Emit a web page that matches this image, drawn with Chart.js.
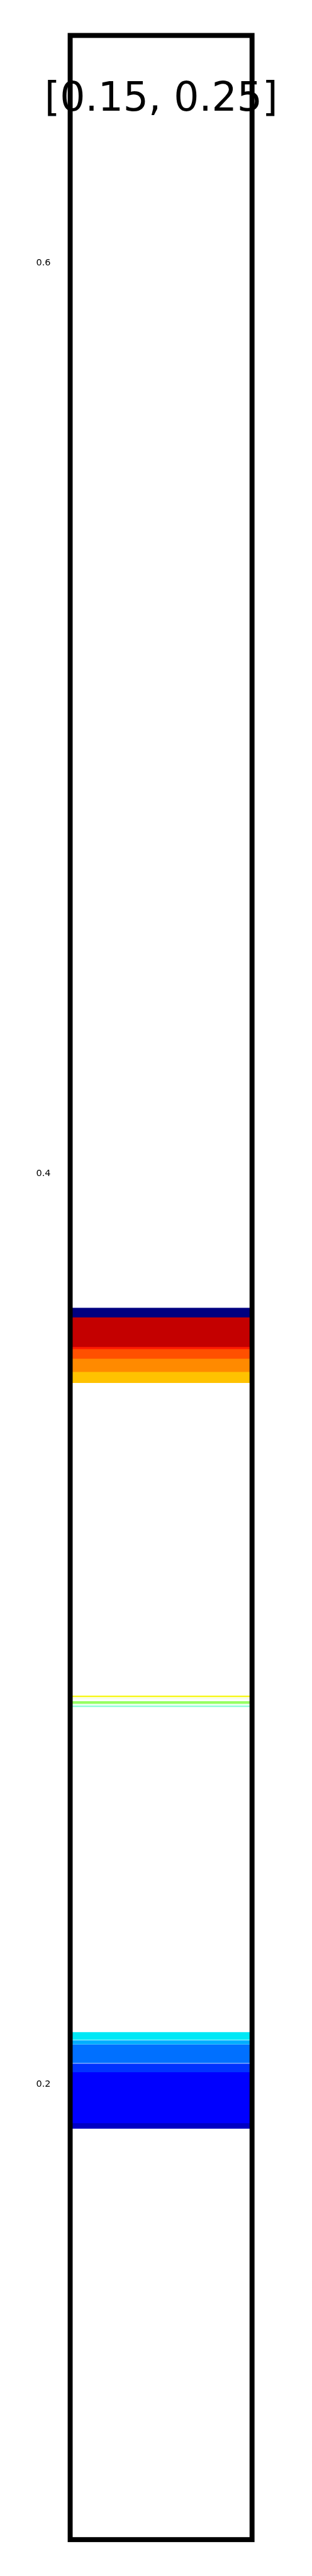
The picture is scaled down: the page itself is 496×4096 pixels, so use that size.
<!DOCTYPE html>
<html>
<head>
<meta charset="utf-8">
<script src="https://cdn.jsdelivr.net/npm/chart.js@4.4.0/dist/chart.umd.min.js"></script>
<style>
  html, body { margin: 0; padding: 0; background: #fff; }
  canvas { display: block; }
</style>
</head>
<body>
<canvas id="chart" width="496" height="4096"></canvas>
<script>
// Band data (value ranges on the y axis)
const bandLow  = [0.3685, 0.3620, 0.3615, 0.3594, 0.3565, 0.3541,
                  0.2851, 0.28465, 0.2836, 0.28325, 0.2829,
                  0.2098, 0.2088, 0.2047, 0.2027, 0.1915, 0.1903];
const bandHigh = [0.3705, 0.3685, 0.3620, 0.3615, 0.3594, 0.3565,
                  0.2853, 0.28475, 0.2841, 0.28335, 0.2831,
                  0.2114, 0.2096, 0.2087, 0.2045, 0.2026, 0.1915];
const bandColors = ['#000080', '#C40000', '#FF1A00', '#FF5000', '#FF8A00', '#FFC200',
                    '#F6F600', '#F0FCE0', '#96FF64', '#D6FFEC', '#80FFD4',
                    '#00E8F6', '#00ADFF', '#0070FF', '#0033FF', '#0000FF', '#0000C4'];
const yTicks = [0.2, 0.4, 0.6];
const titleText = '[0.15, 0.25]';

const S = 0.632; // scale from the reference

// Frame around the plot area + title inside it
const framePlugin = {
    id: 'frame',
    afterDraw(chart) {
        const { ctx, chartArea: a } = chart;
        ctx.save();
        ctx.strokeStyle = '#000';
        ctx.lineWidth = 12.5 * S;
        ctx.lineJoin = 'miter';
        ctx.strokeRect(a.left, a.top, a.right - a.left, a.bottom - a.top);
        ctx.fillStyle = '#000';
        ctx.font = (100 * S) + 'px "DejaVu Sans"';
        ctx.textAlign = 'center';
        ctx.textBaseline = 'alphabetic';
        ctx.fillText(titleText, (a.left + a.right) / 2, 279 * S);
        ctx.restore();
    }
};

const ctx = document.getElementById('chart').getContext('2d');
new Chart(ctx, {
    type: 'bar',
    data: {
        labels: [''],
        datasets: bandLow.map((lo, i) => ({
            data: [[lo, bandHigh[i]]],
            backgroundColor: bandColors[i],
            borderWidth: 0,
            grouped: false,
            categoryPercentage: 1,
            barPercentage: 1
        }))
    },
    options: {
        responsive: false,
        animation: false,
        layout: { padding: { left: 0, right: 496 - 634 * S, top: 89.2 * S, bottom: 4096 - 6389.5 * S } },
        plugins: {
            legend: { display: false },
            tooltip: { enabled: false },
            title: { display: false }
        },
        scales: {
            x: { display: false },
            y: {
                min: 0.1,
                max: 0.65,
                afterBuildTicks: (scale) => { scale.ticks = yTicks.map(v => ({ value: v })); },
                afterFit: (scale) => { scale.width = 176.5 * S; },
                grid: { display: false, drawTicks: false },
                border: { display: false },
                ticks: {
                    color: '#000',
                    padding: 31,
                    font: { family: 'DejaVu Sans', size: 23 * S },
                    callback: (v) => String(v)
                }
            }
        }
    },
    plugins: [framePlugin]
});
</script>
</body>
</html>
